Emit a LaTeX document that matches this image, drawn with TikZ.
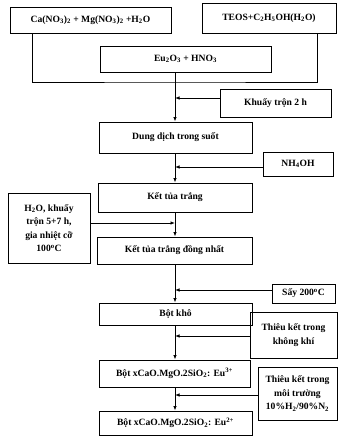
\documentclass[tikz,border=0pt]{standalone}
\usepackage{fontspec}
\setmainfont{Liberation Serif}
\usetikzlibrary{arrows.meta,calc}
\newcommand{\sbs}[1]{\textsubscript{#1}}
\newcommand{\sps}[1]{\textsuperscript{#1}}
\tikzset{
  bx/.style={draw, line width=0.9pt, inner sep=0pt, align=center, font=\bfseries\fontsize{9.6}{13.5}\selectfont},
  ln/.style={line width=0.8pt},
  arr/.style={ln, -{Latex[length=4.5pt,width=3.5pt]}},
}
\newcommand{\boxat}[6]{\node[bx, minimum width=#4pt-#2pt, minimum height=#5pt-#3pt] (#1) at ({(#2+#4)/2},{(#3+#5)/2}) {#6};}
\begin{document}
\begin{tikzpicture}[x=1pt,y=-1pt]
\useasboundingbox (0,0) rectangle (354,439);
\fill[white] (0,0) rectangle (354,439);
\boxat{ca}{10}{7}{171}{33}{Ca(NO\sbs{3})\sbs{2} + Mg(NO\sbs{3})\sbs{2} +H\sbs{2}O}
\boxat{teos}{202}{3}{336}{33}{TEOS+C\sbs{2}H\sbs{5}OH(H\sbs{2}O)}
\boxat{eu}{100}{46}{271}{72}{Eu\sbs{2}O\sbs{3} + HNO\sbs{3}}
\boxat{khuay}{220}{89}{331}{117}{Khuấy trộn 2 h}
\boxat{dd}{99}{122}{252}{153}{Dung dịch trong suốt}
\boxat{nh}{263}{152}{333}{176}{NH\sbs{4}OH}
\boxat{kt}{98}{183}{252}{212}{Kết tủa trắng}
\boxat{h2o}{8}{193}{90}{263}{H\sbs{2}O, khuấy\\trộn 5+7 h,\\gia nhiệt cỡ\\100\sps{o}C}
\boxat{ktdn}{97}{237}{252}{264}{Kết tủa trắng đồng nhất}
\boxat{say}{272}{284}{335}{303}{Sấy 200\sps{o}C}
\boxat{bk}{99}{303}{252}{325}{Bột khô}
\boxat{tk1}{250}{312}{337}{358}{Thiêu kết trong\\không khí}
\boxat{eutb}{99}{360}{250}{387}{Bột xCaO.MgO.2SiO\sbs{2}: Eu\sps{3+}}
\boxat{tk2}{258}{367}{337}{420}{Thiêu kết trong\\môi trường\\10\%H\sbs{2}/90\%N\sbs{2}}
\boxat{euh}{99}{411}{252}{435}{Bột xCaO.MgO.2SiO\sbs{2}: Eu\sps{2+}}
\coordinate (mx) at (175,0);
\coordinate (lx) at (32,0);
\coordinate (rx) at (317,0);
\coordinate (jn) at (175,82);
% merging lines
\draw[ln] (ca.south -| lx) |- (jn) -| (teos.south -| rx);
% main column
\draw[arr] (eu.south -| mx) -- (dd.north -| mx);
\draw[arr] (dd.south -| mx) -- (kt.north -| mx);
\draw[arr] (kt.south -| mx) -- (ktdn.north -| mx);
\draw[arr] (ktdn.south -| mx) -- (bk.north -| mx);
\draw[arr] (bk.south -| mx) -- (eutb.north -| mx);
\draw[arr] (eutb.south -| mx) -- (euh.north -| mx);
% side inputs
\draw[arr] ([yshift=5pt]khuay.west) -- ([yshift=5pt]khuay.west -| mx);
\draw[arr] ([yshift=-3pt]nh.west) -- ([yshift=-3pt]nh.west -| mx);
\draw[arr] ([yshift=5pt]h2o.east) -- ([yshift=5pt]h2o.east -| mx);
\draw[arr] ([yshift=3.5pt]say.west) -- ([yshift=3.5pt]say.west -| mx);
\draw[arr] ([yshift=-1pt]tk1.west) -- ([yshift=-1pt]tk1.west -| mx);
\draw[arr] ([yshift=-1.5pt]tk2.west) -- ([yshift=-1.5pt]tk2.west -| mx);
\end{tikzpicture}
\end{document}
